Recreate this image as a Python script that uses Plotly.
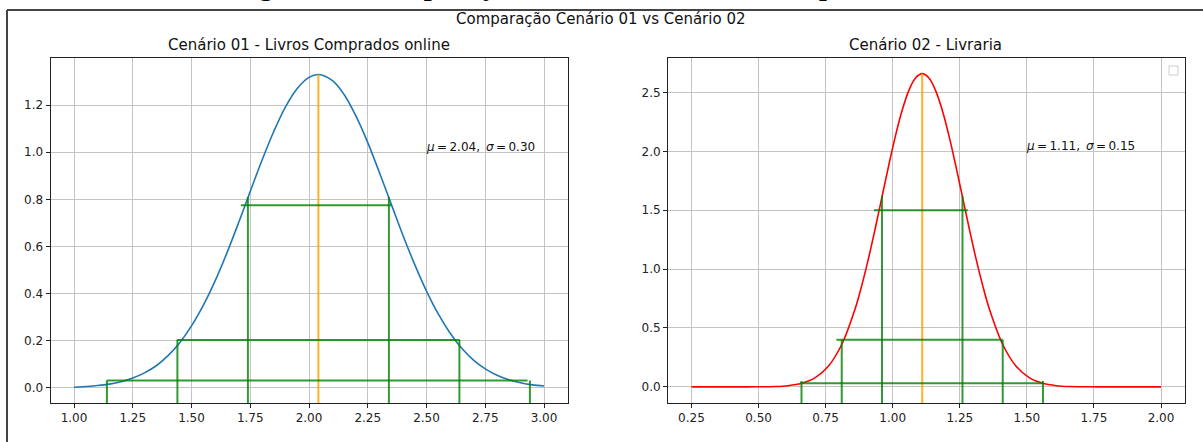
import plotly.graph_objects as go

W, H = 1203, 442

# ---- Cenário 01 - Livros Comprados online (densidade normal) ----
mu_online, sigma_online = 2.04, 0.30
x_online = [1.00, 1.05, 1.10, 1.15, 1.20, 1.25, 1.30, 1.35, 1.40, 1.45,
            1.50, 1.55, 1.60, 1.65, 1.70, 1.75, 1.80, 1.85, 1.90, 1.95,
            2.00, 2.04, 2.10, 2.15, 2.20, 2.25, 2.30, 2.35, 2.40, 2.45,
            2.50, 2.55, 2.60, 2.65, 2.70, 2.75, 2.80, 2.85, 2.90, 2.95, 3.00]
y_online = [0.003, 0.006, 0.010, 0.016, 0.026, 0.042, 0.064, 0.094, 0.137,
            0.192, 0.263, 0.350, 0.453, 0.571, 0.700, 0.834, 0.966, 1.088,
            1.193, 1.271, 1.318, 1.330, 1.304, 1.244, 1.153, 1.041, 0.913,
            0.780, 0.647, 0.523, 0.411, 0.314, 0.233, 0.168, 0.118, 0.081,
            0.054, 0.035, 0.022, 0.013, 0.008]
peak_online = 1.33

# faixas de 1, 2 e 3 desvios
hline_y_online = [0.775, 0.203, 0.031]
hline_x0_online = [1.71, 1.44, 1.14]
hline_x1_online = [2.35, 2.64, 2.93]
vline_x_online = [1.74, 2.34, 1.44, 2.64, 1.14, 2.94]
vline_top_online = [0.81, 0.81, 0.205, 0.205, 0.031, 0.031]

# ---- Cenário 02 - Livraria ----
mu_livraria, sigma_livraria = 1.11, 0.15
x_livraria = [0.25, 0.46, 0.56, 0.61, 0.66, 0.71, 0.76, 0.81, 0.86, 0.885,
              0.91, 0.935, 0.96, 0.985, 1.01, 1.035, 1.06, 1.085, 1.11,
              1.135, 1.16, 1.185, 1.21, 1.235, 1.26, 1.285, 1.31, 1.335,
              1.36, 1.41, 1.46, 1.51, 1.56, 1.61, 1.66, 1.76, 2.00]
y_livraria = [0.0, 0.0002, 0.003, 0.010, 0.030, 0.076, 0.175, 0.360, 0.663,
              0.864, 1.093, 1.347, 1.613, 1.879, 2.130, 2.347, 2.516, 2.623,
              2.660, 2.623, 2.516, 2.347, 2.130, 1.879, 1.613, 1.347, 1.093,
              0.864, 0.663, 0.360, 0.175, 0.076, 0.030, 0.010, 0.003, 0.0002,
              0.0]
peak_livraria = 2.66

hline_y_livraria = [1.50, 0.40, 0.03]
hline_x0_livraria = [0.93, 0.79, 0.655]
hline_x1_livraria = [1.28, 1.41, 1.56]
vline_x_livraria = [0.96, 1.26, 0.81, 1.41, 0.66, 1.56]
vline_top_livraria = [1.62, 1.62, 0.40, 0.40, 0.05, 0.05]

# eixos
xticks_online = [1.00, 1.25, 1.50, 1.75, 2.00, 2.25, 2.50, 2.75, 3.00]
yticks_online = [0.0, 0.2, 0.4, 0.6, 0.8, 1.0, 1.2]
xticks_livraria = [0.25, 0.50, 0.75, 1.00, 1.25, 1.50, 1.75, 2.00]
yticks_livraria = [0.0, 0.5, 1.0, 1.5, 2.0, 2.5]

xrange_online = [0.9, 3.1]
yrange_online = [-0.064, 1.40]
xrange_livraria = [0.1625, 2.0875]
yrange_livraria = [-0.137, 2.793]

FONT = "DejaVu Sans"
GREEN = "rgba(0,128,0,0.8)"
ORANGE = "rgba(255,165,0,0.85)"


def segments(h_y, h_x0, h_x1, v_x, v_top, y_bottom):
    xs, ys = [], []
    for y, a, b in zip(h_y, h_x0, h_x1):
        xs += [a, b, None]
        ys += [y, y, None]
    for x, t in zip(v_x, v_top):
        xs += [x, x, None]
        ys += [y_bottom, t, None]
    return xs, ys


fig = go.Figure()

panels = [
    (x_online, y_online, "#1f77b4", mu_online, peak_online, hline_y_online,
     hline_x0_online, hline_x1_online, vline_x_online, vline_top_online,
     yrange_online, "x", "y"),
    (x_livraria, y_livraria, "#ff0000", mu_livraria, peak_livraria,
     hline_y_livraria, hline_x0_livraria, hline_x1_livraria, vline_x_livraria,
     vline_top_livraria, yrange_livraria, "x2", "y2"),
]

for (xc, yc, col, mu, peak, hy, hx0, hx1, vx, vt, yr, xa, ya) in panels:
    fig.add_trace(go.Scatter(x=xc, y=yc, mode="lines", xaxis=xa, yaxis=ya,
                             line=dict(color=col, width=1.6, shape="spline",
                                       smoothing=1.0),
                             showlegend=False, hoverinfo="skip"))
    fig.add_trace(go.Scatter(x=[mu, mu], y=[yr[0], peak], mode="lines",
                             xaxis=xa, yaxis=ya,
                             line=dict(color=ORANGE, width=2),
                             showlegend=False, hoverinfo="skip"))
    gx, gy = segments(hy, hx0, hx1, vx, vt, yr[0])
    fig.add_trace(go.Scatter(x=gx, y=gy, mode="lines", xaxis=xa, yaxis=ya,
                             line=dict(color=GREEN, width=2),
                             showlegend=False, hoverinfo="skip",
                             connectgaps=False))


def axis(domain, rng, ticks, fmt, anchor):
    return dict(domain=domain, range=rng, tickvals=ticks,
                ticktext=[fmt.format(t) for t in ticks],
                showgrid=True, gridcolor="#c4c4c4", gridwidth=1,
                zeroline=False, showline=True, mirror=True,
                linecolor="#222222", linewidth=1,
                ticks="outside", ticklen=4, tickwidth=1, tickcolor="#222222",
                tickfont=dict(family=FONT, size=12, color="#222222"),
                anchor=anchor, fixedrange=True)


y_dom = [1 - 403 / H, 1 - 58 / H]
fig.update_layout(
    width=W, height=H,
    margin=dict(l=0, r=0, t=0, b=0),
    paper_bgcolor="white", plot_bgcolor="white",
    showlegend=False,
    xaxis=axis([50.5 / W, 567.5 / W], xrange_online, xticks_online, "{:.2f}", "y"),
    yaxis=axis(y_dom, yrange_online, yticks_online, "{:.1f}", "x"),
    xaxis2=axis([668 / W, 1184.5 / W], xrange_livraria, xticks_livraria, "{:.2f}", "y2"),
    yaxis2=axis(y_dom, yrange_livraria, yticks_livraria, "{:.1f}", "x2"),
)

annotations = [
    # legenda do documento, acima da figura (só a parte de baixo aparece)
    dict(text="<b>Figura 10: Comparação entre os cenários de compra</b>",
         xref="paper", yref="paper", x=232 / W, y=1 - 3 / H,
         xanchor="left", yanchor="bottom", showarrow=False,
         font=dict(family="Liberation Serif", size=28, color="black")),
    dict(text="Comparação Cenário 01 vs Cenário 02",
         xref="paper", yref="paper", x=600 / W, y=1 - 19 / H,
         xanchor="center", yanchor="middle", showarrow=False,
         font=dict(family=FONT, size=15, color="#111111")),
    dict(text="Cenário 01 - Livros Comprados online",
         xref="paper", yref="paper", x=309 / W, y=1 - 45 / H,
         xanchor="center", yanchor="middle", showarrow=False,
         font=dict(family=FONT, size=15, color="#111111")),
    dict(text="Cenário 02 - Livraria",
         xref="paper", yref="paper", x=926 / W, y=1 - 45 / H,
         xanchor="center", yanchor="middle", showarrow=False,
         font=dict(family=FONT, size=15, color="#111111")),
    dict(text="<i>μ</i>\u2009=\u20092.04,\u2002<i>σ</i>\u2009=\u20090.30",
         xref="x", yref="y", x=2.5, y=1.0, xanchor="left", yanchor="bottom",
         yshift=-4, xshift=-3, showarrow=False,
         font=dict(family=FONT, size=12, color="#111111")),
    dict(text="<i>μ</i>\u2009=\u20091.11,\u2002<i>σ</i>\u2009=\u20090.15",
         xref="x2", yref="y2", x=1.5, y=2.0, xanchor="left", yanchor="bottom",
         yshift=-4, xshift=-3, showarrow=False,
         font=dict(family=FONT, size=12, color="#111111")),
]
fig.update_layout(annotations=annotations)

shapes = [
    # moldura da figura
    dict(type="line", xref="paper", yref="paper", x0=7 / W, x1=1.0,
         y0=1 - 10 / H, y1=1 - 10 / H, line=dict(color="#444444", width=2)),
    dict(type="line", xref="paper", yref="paper", x0=7 / W, x1=7 / W,
         y0=0, y1=1 - 10 / H, line=dict(color="#444444", width=2)),
    # caixa de legenda vazia
    dict(type="rect", xref="paper", yref="paper", x0=1169 / W, x1=1178 / W,
         y0=1 - 75 / H, y1=1 - 66 / H, fillcolor="white",
         line=dict(color="#cccccc", width=1)),
]
fig.update_layout(shapes=shapes)

fig.write_html("out.html")
